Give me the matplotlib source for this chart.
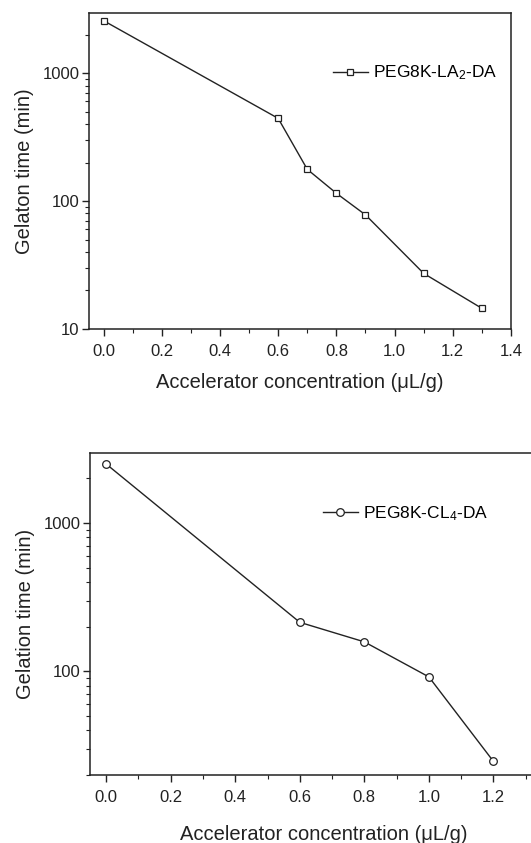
import matplotlib

matplotlib.use("Agg")
import matplotlib.pyplot as plt
from matplotlib.ticker import FixedLocator, FuncFormatter, LogLocator, MultipleLocator, NullFormatter

plt.rcParams["font.family"] = ["Liberation Sans", "DejaVu Sans"]
plt.rcParams["mathtext.fontset"] = "custom"
plt.rcParams["mathtext.rm"] = "Liberation Sans"
plt.rcParams["mathtext.it"] = "Liberation Sans"

# top panel: PEG8K-LA2-DA
la_conc = [0.0, 0.6, 0.7, 0.8, 0.9, 1.1, 1.3]
la_time = [2570, 443, 177, 115, 78, 27.2, 14.5]
la_label = "PEG8K-LA$_2$-DA"
la_xticks = [0.0, 0.2, 0.4, 0.6, 0.8, 1.0, 1.2, 1.4]

# bottom panel: PEG8K-CL4-DA
cl_conc = [0.0, 0.6, 0.8, 1.0, 1.2]
cl_time = [2500, 214, 158, 91.7, 24.7]
cl_label = "PEG8K-CL$_4$-DA"
cl_xticks = [0.0, 0.2, 0.4, 0.6, 0.8, 1.0, 1.2]

x_label = "Accelerator concentration (\u03bcL/g)"

W, H = 531, 843
fig = plt.figure(figsize=(W / 100, H / 100), dpi=100)

ink = "#222222"


def style(ax, ylim, ylabel, xticks, leg_xy, xpad):
    ax.set_yscale("log")
    ax.set_xlim(-0.05, 1.4)
    ax.set_ylim(*ylim)
    ax.set_xticks(xticks)
    ax.set_xticklabels([f"{t:.1f}" for t in xticks])
    ax.xaxis.set_minor_locator(MultipleLocator(0.1))
    ax.yaxis.set_major_locator(LogLocator(base=10))
    ax.yaxis.set_major_formatter(FuncFormatter(lambda v, p: f"{v:g}"))
    ax.yaxis.set_minor_locator(LogLocator(base=10, subs=range(2, 10)))
    ax.yaxis.set_minor_formatter(NullFormatter())
    ax.tick_params(which="major", direction="out", length=5, width=1, colors=ink,
                   labelsize=12, pad=6)
    ax.tick_params(axis="y", which="major", pad=2)
    ax.tick_params(which="minor", direction="out", length=3, width=0.8, colors=ink)
    for s in ax.spines.values():
        s.set_color(ink)
        s.set_linewidth(1.1)
    ax.set_ylabel(ylabel, fontsize=14.5, color=ink, labelpad=6)
    ax.set_xlabel(x_label, fontsize=14.5, color=ink, labelpad=xpad)
    ax.legend(loc="center left", bbox_to_anchor=leg_xy, frameon=False, fontsize=12.5,
              handlelength=2.0, handletextpad=0.3, borderpad=0, borderaxespad=0)


ax1 = fig.add_axes([89 / W, 1 - 329 / H, 422 / W, 316 / H])
ax1.plot(la_conc, la_time, color=ink, lw=1, marker="s", ms=5, mfc="white",
         mec=ink, mew=0.9, label=la_label)
style(ax1, (10, 2950), "Gelaton time (min)", la_xticks, (0.578, 0.81), 10)

ax2 = fig.add_axes([90 / W, 1 - 775 / H, 468 / W, 322 / H])
ax2.plot(cl_conc, cl_time, color=ink, lw=1, marker="o", ms=5.5, mfc="white",
         mec=ink, mew=0.9, label=cl_label)
style(ax2, (20, 2965), "Gelation time (min)", cl_xticks, (0.498, 0.811), 14)
ax2.xaxis.set_minor_locator(FixedLocator([0.1, 0.3, 0.5, 0.7, 0.9, 1.1, 1.3]))

fig.savefig("out.png", dpi=100)
